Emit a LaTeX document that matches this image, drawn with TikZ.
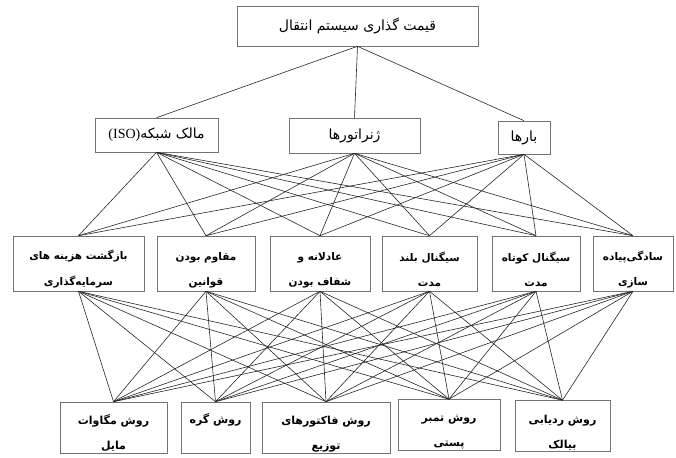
\documentclass[tikz,border=0pt]{standalone}
\usepackage{fontspec}
\setmainfont{Liberation Serif}
\newfontfamily\arabicfont[Script=Arabic]{DejaVu Sans}
\TeXXeTstate=1
\newcommand{\fa}[1]{{\arabicfont\beginR #1\endR}}
\newcommand{\toppad}{\rule{0pt}{21pt}}
\tikzset{
 box/.style={draw=black!55, line width=.6pt, inner sep=0pt, align=center},
 link/.style={draw=black!85, line width=.6pt}
}

\begin{document}
\begin{tikzpicture}[x=1pt,y=-1pt]
 \useasboundingbox (0,0) rectangle (676,457);
 % top
 \node[box, minimum width=241pt, minimum height=40pt, font=\fontsize{14}{16}\selectfont] (price) at (357.5,26) {\fa{قیمت گذاری سیستم انتقال}};
 % level 2
 \node[box, minimum width=123pt, minimum height=34pt, font=\fontsize{14}{16}\selectfont] (iso) at (156.5,135) {(ISO)\fa{مالک شبکه}};
 \node[box, minimum width=131pt, minimum height=35pt, font=\fontsize{14}{16}\selectfont] (gen) at (354.5,135.5) {\fa{ژنراتورها}};
 \node[box, minimum width=52pt, minimum height=33pt, font=\fontsize{14}{16}\selectfont] (load) at (524,137.5) {\fa{بارها}};
 % level 3
 \tikzset{crit/.style={box, minimum height=55pt, font=\bfseries\fontsize{10.5}{12}\selectfont}}
 \node[crit, minimum width=131pt] (c1) at (78.5,263.5) {\toppad\fa{بازگشت هزینه های}\\[13pt]\fa{سرمایه‌گذاری}};
 \node[crit, minimum width=98pt] (c2) at (206,263.5) {\toppad\fa{مقاوم بودن}\\[13pt]\fa{قوانین}};
 \node[crit, minimum width=100pt] (c3) at (320,263.5) {\toppad\fa{عادلانه و}\\[13pt]\fa{شفاف بودن}};
 \node[crit, minimum width=95pt] (c4) at (429.5,263.5) {\toppad\fa{سیگنال بلند}\\[13pt]\fa{مدت}};
 \node[crit, minimum width=88pt] (c5) at (536,263.5) {\toppad\fa{سیگنال کوتاه}\\[13pt]\fa{مدت}};
 \node[crit, minimum width=80pt] (c6) at (633,263.5) {\toppad\fa{سادگی‌پیاده}\\[13pt]\fa{سازی}};
 % methods
 \tikzset{meth/.style={box, minimum height=51pt, font=\bfseries\fontsize{11}{13}\selectfont}}
 \node[meth, minimum width=107pt] (m1) at (113.5,427.5) {\toppad\fa{روش مگاوات}\\[12pt]\fa{مایل}};
 \node[meth, minimum width=69pt] (m2) at (215.5,427.5) {\toppad\fa{روش گره}\\[12pt]\strut};
 \node[meth, minimum width=128pt] (m3) at (326,427.5) {\toppad\fa{روش فاکتورهای}\\[12pt]\fa{توزیع}};
 \node[meth, minimum width=102pt] (m4) at (449,425) {\toppad\fa{روش تمبر}\\[12pt]\fa{پستی}};
 \node[meth, minimum width=95pt] (m5) at (562.5,426) {\toppad\fa{روش ردیابی}\\[12pt]\fa{بیالک}};
 % links
 \foreach \p in {iso,gen,load}
  \draw[link] (price.south) -- (\p.north);
 \foreach \p in {iso,gen,load}
  \foreach \c in {c1,c2,c3,c4,c5,c6}
   \draw[link] (\p.south) -- (\c.north);
 \foreach \c in {c1,c2,c3,c4,c5,c6}
  \foreach \m in {m1,m2,m3,m4,m5}
   \draw[link] (\c.south) -- (\m.north);
\end{tikzpicture}
\end{document}
